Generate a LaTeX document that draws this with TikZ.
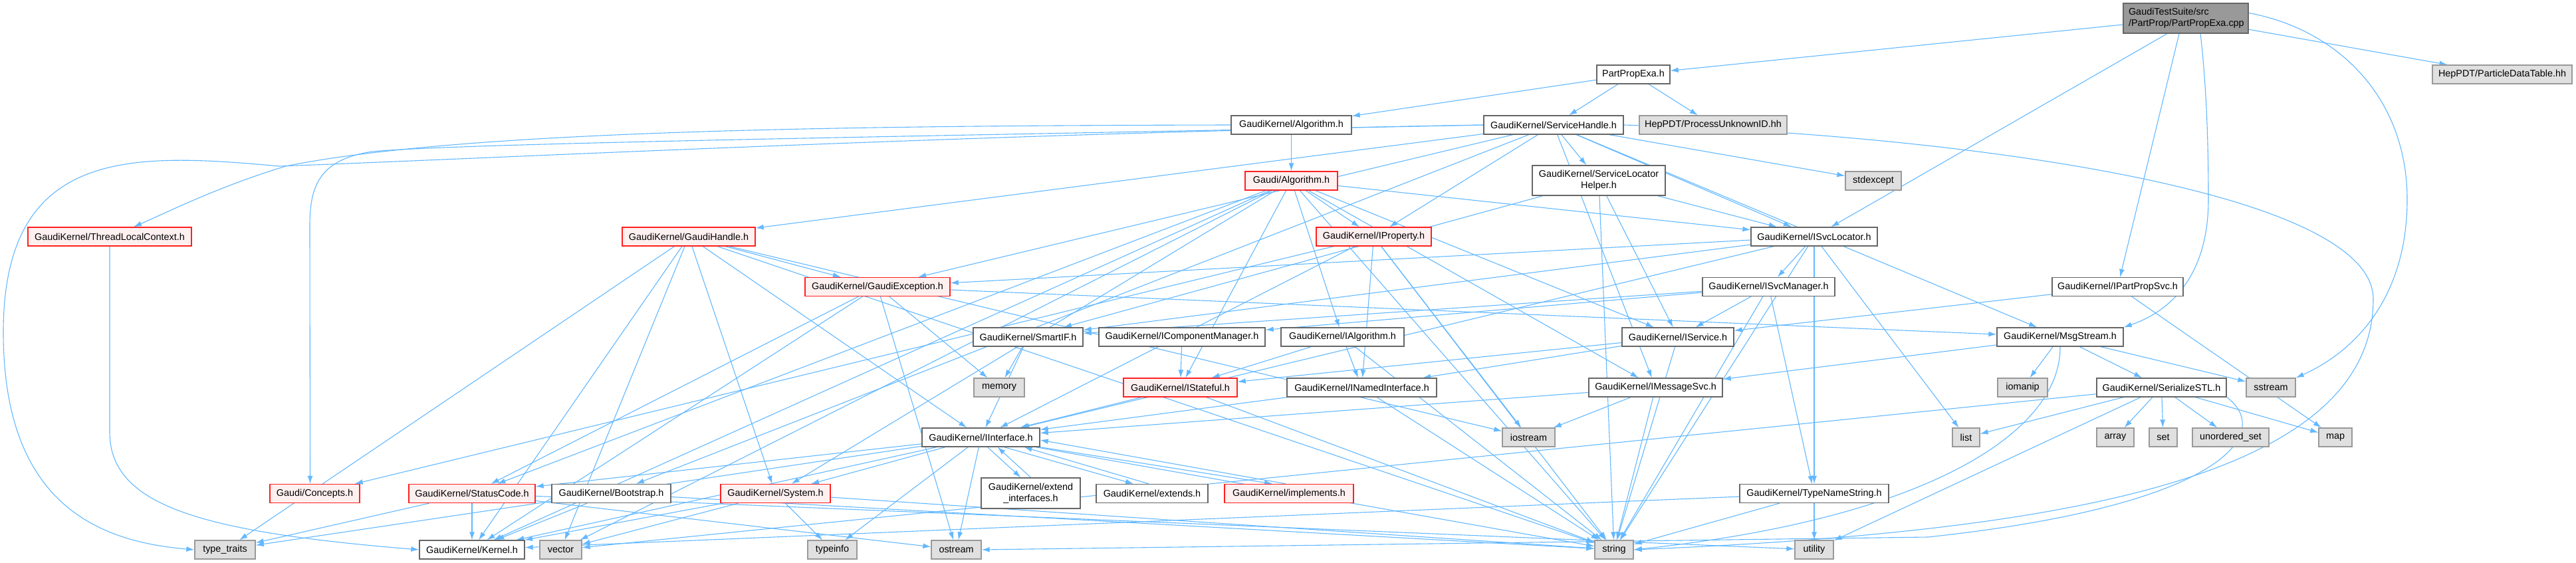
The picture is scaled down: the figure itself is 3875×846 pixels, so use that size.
\documentclass[tikz,border=0pt]{standalone}
\usepackage{fontspec}
\setmainfont{Liberation Sans}
\usetikzlibrary{arrows.meta,backgrounds}
\definecolor{edgec}{HTML}{63B8FF}
\definecolor{redfill}{HTML}{FFF0F0}
\definecolor{grayfill}{HTML}{E0E0E0}
\definecolor{graydraw}{HTML}{999999}
\definecolor{darkdraw}{HTML}{666666}
\definecolor{redd}{HTML}{FF2020}
\newcommand{\nodefont}{\fontsize{14.4}{17}\selectfont}
\tikzset{
 nd/.style={draw, line width=1.3pt, minimum height=28pt, inner sep=0pt, font=\nodefont, text=black},
 wn/.style={nd, fill=white, draw=darkdraw},
 rn/.style={nd, fill=redfill, draw=redd},
 gn/.style={nd, fill=grayfill, draw=graydraw},
 rootn/.style={nd, fill=graydraw, draw=darkdraw},
 conn/.style={draw=edgec, line width=1.1pt, -{Latex[length=12pt,width=8pt]}},
}
\begin{document}
\begin{tikzpicture}[x=1pt,y=-1pt]
\useasboundingbox (0,0) rectangle (3875,846);
% nodes
\node[rootn, minimum width=188pt, minimum height=45pt, text width=172pt, align=left] (cpp) at (3288,27.5) {GaudiTestSuite/src\\/PartProp/PartPropExa.cpp};
\node[gn, minimum width=210pt] (pdt) at (3764,112) {HepPDT/ParticleDataTable.hh};
\node[wn, minimum width=110pt] (ppexa) at (2457,112) {PartPropExa.h};
\node[wn, minimum width=181pt] (algk) at (1942.5,188) {GaudiKernel/Algorithm.h};
\node[wn, minimum width=210pt] (sh) at (2337,188) {GaudiKernel/ServiceHandle.h};
\node[gn, minimum width=222pt] (pui) at (2577,188) {HepPDT/ProcessUnknownID.hh};
\node[rn, minimum width=139pt] (galg) at (1942.5,272) {Gaudi/Algorithm.h};
\node[wn, minimum width=200pt, minimum height=45pt, align=center] (slh) at (2405,271.5) {GaudiKernel/ServiceLocator\\Helper.h};
\node[gn, minimum width=84pt] (stdexcept) at (2818,272) {stdexcept};
\node[rn, minimum width=173pt] (iprop) at (2066.5,356) {GaudiKernel/IProperty.h};
\node[wn, minimum width=190pt] (isl) at (2729,356) {GaudiKernel/ISvcLocator.h};
\node[rn, minimum width=246pt] (tlc) at (165,356) {GaudiKernel/ThreadLocalContext.h};
\node[rn, minimum width=200pt] (gh) at (1036,356) {GaudiKernel/GaudiHandle.h};
\node[rn, minimum width=218pt] (gex) at (1320,431.5) {GaudiKernel/GaudiException.h};
\node[wn, minimum width=199pt] (ism) at (2660.5,431.5) {GaudiKernel/ISvcManager.h};
\node[wn, minimum width=197pt] (ipps) at (3185.5,431.5) {GaudiKernel/IPartPropSvc.h};
\node[wn, minimum width=165pt] (smartif) at (1546.5,507) {GaudiKernel/SmartIF.h};
\node[wn, minimum width=250pt] (icm) at (1778,507) {GaudiKernel/IComponentManager.h};
\node[wn, minimum width=185pt] (ialg) at (2019.5,507) {GaudiKernel/IAlgorithm.h};
\node[wn, minimum width=168pt] (isvc) at (2524,507) {GaudiKernel/IService.h};
\node[wn, minimum width=190pt] (msg) at (3099,507) {GaudiKernel/MsgStream.h};
\node[gn, minimum width=76pt] (memory) at (1503,583) {memory};
\node[rn, minimum width=171pt] (istf) at (1775.5,583) {GaudiKernel/IStateful.h};
\node[wn, minimum width=225pt] (inamed) at (2048.5,583) {GaudiKernel/INamedInterface.h};
\node[wn, minimum width=201pt] (imsg) at (2490.5,583) {GaudiKernel/IMessageSvc.h};
\node[gn, minimum width=75pt] (iomanip) at (3042.5,583) {iomanip};
\node[wn, minimum width=195pt] (sstl) at (3251.5,583) {GaudiKernel/SerializeSTL.h};
\node[gn, minimum width=74pt] (sstream) at (3416,583) {sstream};
\node[wn, minimum width=177pt] (iif) at (1475.5,658) {GaudiKernel/IInterface.h};
\node[gn, minimum width=79pt] (iostream) at (2299.5,658) {iostream};
\node[gn, minimum width=41pt] (list) at (2957.5,658) {list};
\node[gn, minimum width=56pt] (array) at (3182,658) {array};
\node[gn, minimum width=42pt] (set) at (3254,658) {set};
\node[gn, minimum width=115pt] (uset) at (3355.5,658) {unordered\_set};
\node[gn, minimum width=50pt] (map) at (3513,658) {map};
\node[rn, minimum width=135pt] (concepts) at (473.5,742.5) {Gaudi/Concepts.h};
\node[rn, minimum width=190pt] (sc) at (710,742.5) {GaudiKernel/StatusCode.h};
\node[wn, minimum width=179pt] (boot) at (919.5,742.5) {GaudiKernel/Bootstrap.h};
\node[rn, minimum width=165pt] (system) at (1166.5,742.5) {GaudiKernel/System.h};
\node[wn, minimum width=149pt, minimum height=46pt, align=center] (extif) at (1550.5,742) {GaudiKernel/extend\\\_interfaces.h};
\node[wn, minimum width=168pt] (extends) at (1733,742.5) {GaudiKernel/extends.h};
\node[rn, minimum width=194pt] (impl) at (1939,742.5) {GaudiKernel/implements.h};
\node[wn, minimum width=224pt] (tns) at (2729,742.5) {GaudiKernel/TypeNameString.h};
\node[gn, minimum width=91pt] (tt) at (338.5,827) {type\_traits};
\node[wn, minimum width=158pt] (kernel) at (710,827) {GaudiKernel/Kernel.h};
\node[gn, minimum width=63pt] (vector) at (843.5,827) {vector};
\node[gn, minimum width=74pt] (typeinfo) at (1252,827) {typeinfo};
\node[gn, minimum width=75pt] (ostream) at (1438.5,827) {ostream};
\node[gn, minimum width=58pt] (string) at (2428,827) {string};
\node[gn, minimum width=58pt] (utility) at (2729,827) {utility};
% edges
\begin{scope}[on background layer]
% root
\draw[conn] (cpp) -- (ppexa);
\draw[conn] (cpp) -- (pdt);
\draw[conn] ([xshift=-10pt]cpp.south) -- (ipps);
\draw[conn] ([xshift=-28pt]cpp.south) -- (isl);
\draw[conn] ([xshift=22pt]cpp.south) .. controls (3318,120) and (3322,200) .. (3322,300) .. controls (3322,420) and (3260,470) .. (msg.north east);
\draw[conn] ([yshift=8pt]cpp.east) .. controls (3520,45) and (3621,150) .. (3621,300) .. controls (3621,450) and (3540,530) .. (sstream.north east);
% PartPropExa.h
\draw[conn] (ppexa) -- (algk);
\draw[conn] (ppexa) -- (sh);
\draw[conn] (ppexa) -- (pui);
% GaudiKernel/Algorithm.h
\draw[conn] (algk) -- (galg);
\draw[conn] (algk.west) .. controls (1300,189) and (700,195) .. (430,250) .. controls (330,280) and (250,320) .. ([xshift=36pt]tlc.north);
% ServiceHandle
\draw[conn] (sh) -- (gh);
\draw[conn] (sh) -- (gex);
\draw[conn] (sh) -- (iprop);
\draw[conn] (sh) -- (slh);
\draw[conn] (sh) -- (isl);
\draw[conn] (sh) -- (stdexcept);
\draw[conn] (sh) -- (msg);
\draw[conn] (sh) -- (imsg);
\draw[conn] (sh) -- (boot);
\draw[conn] (sh.east) .. controls (2900,200) and (3570,280) .. (3570,450) .. controls (3570,720) and (3100,800) .. (string.east);
\draw[conn] (sh.west) .. controls (1400,205) and (700,215) .. (560,228) .. controls (480,240) and (466,280) .. (466,340) -- ([xshift=-7pt]concepts.north);
\draw[conn] (sh.west) .. controls (1500,200) and (700,240) .. (420,250) .. controls (200,230) and (5,220) .. (5,500) .. controls (5,760) and (150,815) .. (tt.west);
% Gaudi/Algorithm.h
\draw[conn] (galg) -- (iprop);
\draw[conn] (galg) -- (ialg);
\draw[conn] (galg) -- (isl);
\draw[conn] (galg) -- (isvc);
\draw[conn] (galg) -- (imsg);
\draw[conn] (galg) -- (istf);
\draw[conn] (galg) -- (sc);
\draw[conn] (galg) -- (system);
\draw[conn] (galg) -- (vector);
\draw[conn] (galg) -- (string);
\draw[conn] (galg) -- (kernel);
% ServiceLocatorHelper
\draw[conn] (slh) -- (isl);
\draw[conn] (slh) -- (smartif);
\draw[conn] (slh) -- (isvc);
\draw[conn] (slh) -- (string);
% ThreadLocalContext
\draw[conn] (tlc.south) -- (165,650) .. controls (165,760) and (300,800) .. (kernel.west);
% GaudiHandle
\draw[conn] (gh) -- (gex);
\draw[conn] (gh) -- (iif);
\draw[conn] (gh) -- (system);
\draw[conn] (gh) -- (kernel);
\draw[conn] (gh) -- (tt);
\draw[conn] (gh) -- (vector);
\draw[conn] (gh) -- (string);
\draw[conn] (gh) -- (iostream);
% GaudiException
\draw[conn] (gex) -- (sc);
\draw[conn] (gex) -- (kernel);
\draw[conn] (gex) -- (memory);
\draw[conn] (gex) -- (ostream);
\draw[conn] (gex) -- (msg);
% IProperty
\draw[conn] (iprop) -- (iif);
\draw[conn] (iprop) -- (inamed);
\draw[conn] (iprop) -- (string);
\draw[conn] (iprop) -- (iostream);
\draw[conn] (iprop) -- (concepts);
% ISvcLocator
\draw[conn] (isl) -- (ism);
\draw[conn] (isl) -- (smartif);
\draw[conn] (isl) -- (iif);
\draw[conn] (isl) -- (tns);
\draw[conn] (isl) -- (list);
\draw[conn] (isl) -- (string);
\draw[conn] (isl) -- (gex);
% ISvcManager
\draw[conn] (ism) -- (icm);
\draw[conn] (ism) -- (isvc);
\draw[conn] (ism) -- (smartif);
\draw[conn] (ism) -- (tns);
\draw[conn] (ism) -- (string);
% IPartPropSvc
\draw[conn] (ipps) -- (isvc);
\draw[conn] (ipps) -- (map);
% IComponentManager, IAlgorithm, IService
\draw[conn] (icm) -- (istf);
\draw[conn] (ialg) -- (inamed);
\draw[conn] (ialg) -- (istf);
\draw[conn] (ialg) -- (string);
\draw[conn] (isvc) -- (inamed);
\draw[conn] (isvc) -- (istf);
\draw[conn] (isvc) -- (string);
% IMessageSvc, INamedInterface, IStateful, SmartIF
\draw[conn] (imsg) -- (iif);
\draw[conn] (imsg) -- (iostream);
\draw[conn] (imsg) -- (string);
\draw[conn] (inamed) -- (iif);
\draw[conn] (inamed) -- (string);
\draw[conn] (istf) -- (iif);
\draw[conn] (istf) -- (string);
\draw[conn] (smartif) -- (memory);
\draw[conn] (smartif) -- (iif);
% MsgStream
\draw[conn] (msg) -- (imsg);
\draw[conn] (msg) -- (iomanip);
\draw[conn] (msg) -- (sstl);
\draw[conn] (msg) -- (sstream);
\draw[conn] (msg.south) .. controls (3100,650) and (2900,780) .. (string.east);
% SerializeSTL
\draw[conn] (sstl) -- (list);
\draw[conn] (sstl) -- (array);
\draw[conn] (sstl) -- (set);
\draw[conn] (sstl) -- (uset);
\draw[conn] (sstl) -- (map);
\draw[conn] (sstl) -- (vector);
\draw[conn] (sstl) -- (utility);
\draw[conn] (sstl.south east) .. controls (3420,650) and (3350,760) .. (2900,808) -- (ostream.east);
% IInterface
\draw[conn] (iif) -- (system);
\draw[conn] (iif) -- (sc);
\draw[conn] (iif) -- (kernel);
\draw[conn] (iif) -- (typeinfo);
\draw[conn] (iif) -- (ostream);
\draw[conn] (iif) -- (tt);
\draw[conn] (iif) -- (string);
\draw[conn] ([xshift=10pt]iif.south) -- ([xshift=-15pt]extif.north);
\draw[conn] (extif.north) -- ([xshift=25pt]iif.south);
\draw[conn] ([xshift=35pt]iif.south) -- ([xshift=-28pt]extends.north);
\draw[conn] ([xshift=-5pt]extends.north) -- ([xshift=65pt]iif.south);
\draw[conn] (iif.south east) -- ([xshift=-25pt]impl.north);
\draw[conn] ([xshift=-5pt]impl.north) -- ([yshift=-4pt]iif.east);
% StatusCode, Bootstrap, System, TypeNameString
\draw[conn] (sc) -- (tt);
\draw[conn] (sc) -- (kernel);
\draw[conn] (sc) -- (ostream);
\draw[conn] (sc) -- (utility);
\draw[conn] (boot) -- (kernel);
\draw[conn] (boot) -- (string);
\draw[conn] (system) -- (kernel);
\draw[conn] (system) -- (vector);
\draw[conn] (system) -- (typeinfo);
\draw[conn] (system) -- (string);
\draw[conn] (tns) -- (string);
\draw[conn] (tns) -- (utility);
\draw[conn] (tns) -- (kernel);
\end{scope}
\end{tikzpicture}
\end{document}
